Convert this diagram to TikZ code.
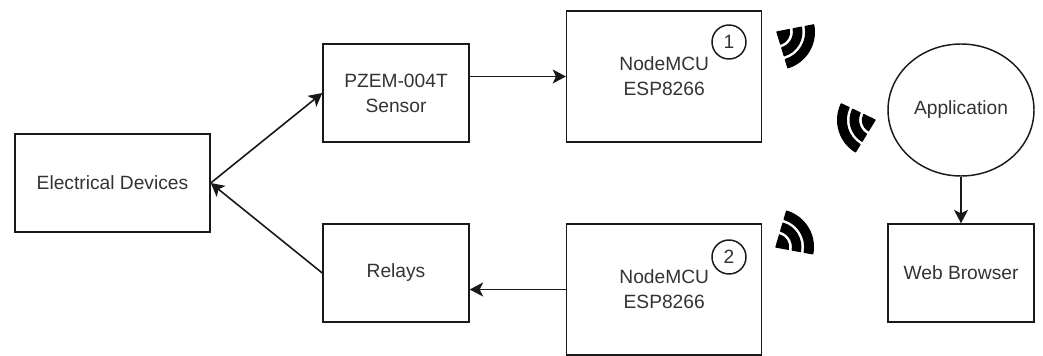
\documentclass[tikz,border=0pt]{standalone}
\usepackage{fontspec}
\setmainfont{Liberation Sans}
\usetikzlibrary{arrows.meta,shapes.geometric}
\tikzset{
  every node/.style={font=\fontsize{14.4pt}{18.6pt}\selectfont,text=black!80,align=center},
  boxnode/.style={draw=black!90,line width=1.1pt,rectangle,inner sep=0pt},
  numnode/.style={draw=black!90,line width=1.1pt,circle,minimum size=25.5pt,inner sep=0pt},
  appnode/.style={draw=black!90,line width=1.1pt,ellipse,minimum width=109.5pt,minimum height=99pt,inner sep=0pt},
  conn/.style={draw=black!90,line width=1.2pt,-{Stealth[length=10pt,width=10.5pt,inset=2.5pt]}},
  wave/.style={fill=black,draw=black,line width=1pt,line join=round},
}
\newcommand{\wifisign}[3]{%
  \begin{scope}[shift={(#1,#2)},rotate=#3]
    \fill[wave] (0,0) -- (-42:9.4pt) arc[start angle=-42,end angle=42,radius=9.4pt] -- cycle;
    \fill[wave] (-42:12.4pt) arc[start angle=-42,end angle=42,radius=12.4pt] -- (42:18.6pt) arc[start angle=42,end angle=-42,radius=18.6pt] -- cycle;
    \fill[wave] (-42:21.6pt) arc[start angle=-42,end angle=42,radius=21.6pt] -- (42:28pt) arc[start angle=42,end angle=-42,radius=28pt] -- cycle;
  \end{scope}}
\begin{document}
\begin{tikzpicture}[x=0.75pt,y=-0.75pt]
\useasboundingbox (0,0) rectangle (1043,356);
\node[boxnode,minimum width=146.25pt,minimum height=73.5pt] (dev) at (112.5,183) {Electrical Devices};
\node[boxnode,minimum width=109.5pt,minimum height=73.5pt] (pzem) at (396,93) {PZEM-004T\\Sensor};
\node[boxnode,minimum width=109.5pt,minimum height=73.5pt] (relay) at (396,273) {Relays};
\node[boxnode,minimum width=146.25pt,minimum height=98.25pt] (mcua) at (664.2,76.5) {NodeMCU\\ESP8266};
\node[boxnode,minimum width=146.25pt,minimum height=98.25pt] (mcub) at (664.2,289.5) {NodeMCU\\ESP8266};
\node[numnode] (numa) at (729,42) {1};
\node[numnode] (numb) at (729,257) {2};
\node[appnode] (app) at (961,110) {Application};
\node[boxnode,minimum width=109.5pt,minimum height=73.5pt] (web) at (961,273) {Web Browser};
\draw[conn] (dev.east) -- (pzem.west);
\draw[conn] (relay.west) -- (dev.east);
\draw[conn] (pzem.east |- mcua.west) -- (mcua.west);
\draw[conn] (mcub.west) -- (mcub.west -| relay.east);
\draw[conn] (app.south) -- (web.north);
\wifisign{777}{32}{-31}
\wifisign{875}{120}{196.5}
\wifisign{776}{247}{31.5}
\end{tikzpicture}
\end{document}
